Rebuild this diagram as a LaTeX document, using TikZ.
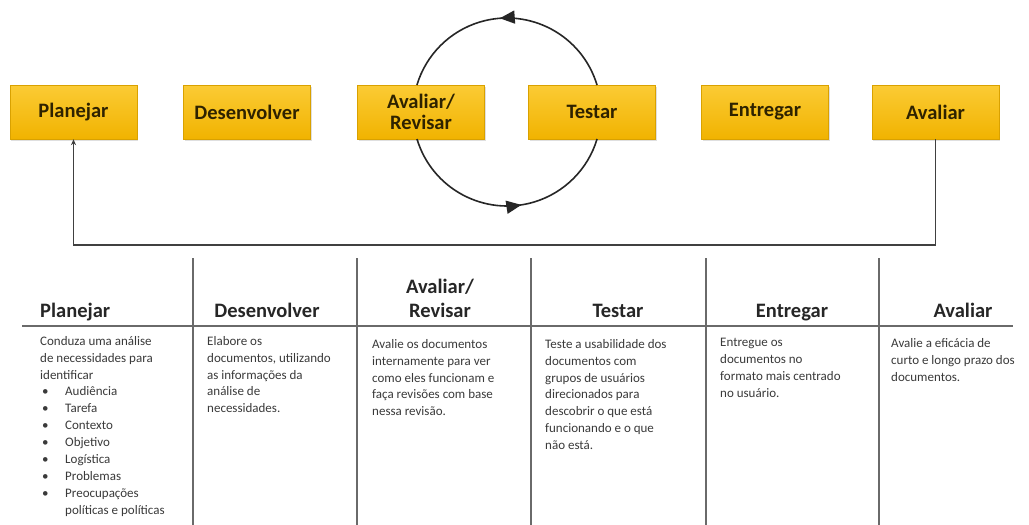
\documentclass[tikz,border=0pt]{standalone}
\usepackage{fontspec}
\setmainfont{Carlito}
\usetikzlibrary{arrows.meta,shadows,decorations.markings}
\definecolor{boxtop}{HTML}{FBCB35}
\definecolor{boxbot}{HTML}{F1B300}
\definecolor{boxtext}{HTML}{2E2200}
\definecolor{linegray}{HTML}{6A6A6A}
\definecolor{bodytext}{HTML}{3A3A3A}
\tikzset{
  phase/.style={rectangle, minimum width=127pt, minimum height=54pt, inner sep=0pt,
    top color=boxtop, bottom color=boxbot, draw=boxbot!90!black, line width=0.3pt,
    drop shadow={opacity=0.25, shadow xshift=1pt, shadow yshift=-2pt},
    font=\fontsize{20.5}{21}\selectfont\bfseries, text=boxtext, align=center},
  head/.style={font=\fontsize{20.5}{23}\selectfont\bfseries, text=black!85, align=center, inner sep=0pt},
  body/.style={font=\fontsize{13}{16.9}\selectfont, text=bodytext, align=left, inner sep=0pt, anchor=north west},
  rule/.style={draw=linegray, line width=1.5pt},
  cyc/.style={draw=black!85, line width=1.6pt, postaction=decorate,
    decoration={markings, mark=at position #1 with {\arrow{Triangle[length=15pt,width=13pt]}}}},
  feedback/.style={draw=black!75, line width=1.8pt, -{Stealth[length=6pt,width=5pt]}}
}
\newcommand{\bul}{\makebox[25pt][l]{\hspace{2pt}\textbullet}}
\begin{document}
\begin{tikzpicture}[x=1pt,y=-1pt]
\useasboundingbox[fill=white] (0,0) rectangle (1029,525);

% phase boxes
\node[phase] (planejar) at (73.5,112) {Planejar};
\node[phase] (desenv) at (247,112) {Desenvolver};
\node[phase] (revisar) at (421,112) {Avaliar/\\Revisar};
\node[phase] (testar) at (592,112) {Testar};
\node[phase] (entregar) at (765,112) {Entregar};
\node[phase] (avaliar) at (935.5,112) {Avaliar};

% cycle between Avaliar/Revisar and Testar
\coordinate (tr) at (597,85);
\coordinate (br) at (417,139);
\draw[cyc=0.53] (tr) arc[start angle=16.7, end angle=163.3, radius=94pt];
\draw[cyc=0.56] (br) arc[start angle=196.7, end angle=343.3, radius=94pt];

% feedback loop
\coordinate (fb) at (935.5,245);
\draw[feedback] (avaliar.south) -- (fb) -| (planejar.south);

% table rules
\foreach \x in {193,357,531,706,879} \draw[rule] (\x,258) -- (\x,525);
\draw[rule] (22,326) -- (1013,326);

% headers
\node[head, anchor=base west] (h1) at (40,317) {Planejar};
\node[head, anchor=base] (h2) at (267,317) {Desenvolver};
\node[head, anchor=base] (h3a) at (440,293) {Avaliar/};
\node[head, anchor=base] (h3b) at (440,317) {Revisar};
\node[head, anchor=base] (h4) at (618,317) {Testar};
\node[head, anchor=base] (h5) at (792,317) {Entregar};
\node[head, anchor=base] (h6) at (963,317) {Avaliar};

% body texts
\node[body] (b1) at (40,336) {Conduza uma análise\\de necessidades para\\identificar\\
\bul Audiência\\\bul Tarefa\\\bul Contexto\\\bul Objetivo\\\bul Logística\\\bul Problemas\\\bul Preocupações\\\hspace*{25pt}políticas e políticas};
\node[body] (b2) at (207,336) {Elabore os\\documentos, utilizando\\as informações da\\análise de\\necessidades.};
\node[body] (b3) at (372,339) {Avalie os documentos\\internamente para ver\\como eles funcionam e\\faça revisões com base\\nessa revisão.};
\node[body] (b4) at (545,339) {Teste a usabilidade dos\\documentos com\\grupos de usuários\\direcionados para\\descobrir o que está\\funcionando e o que\\não está.};
\node[body] (b5) at (720,338) {Entregue os\\documentos no\\formato mais centrado\\no usuário.};
\node[body] (b6) at (891,338) {Avalie a eficácia de\\curto e longo prazo dos\\documentos.};
\end{tikzpicture}
\end{document}
